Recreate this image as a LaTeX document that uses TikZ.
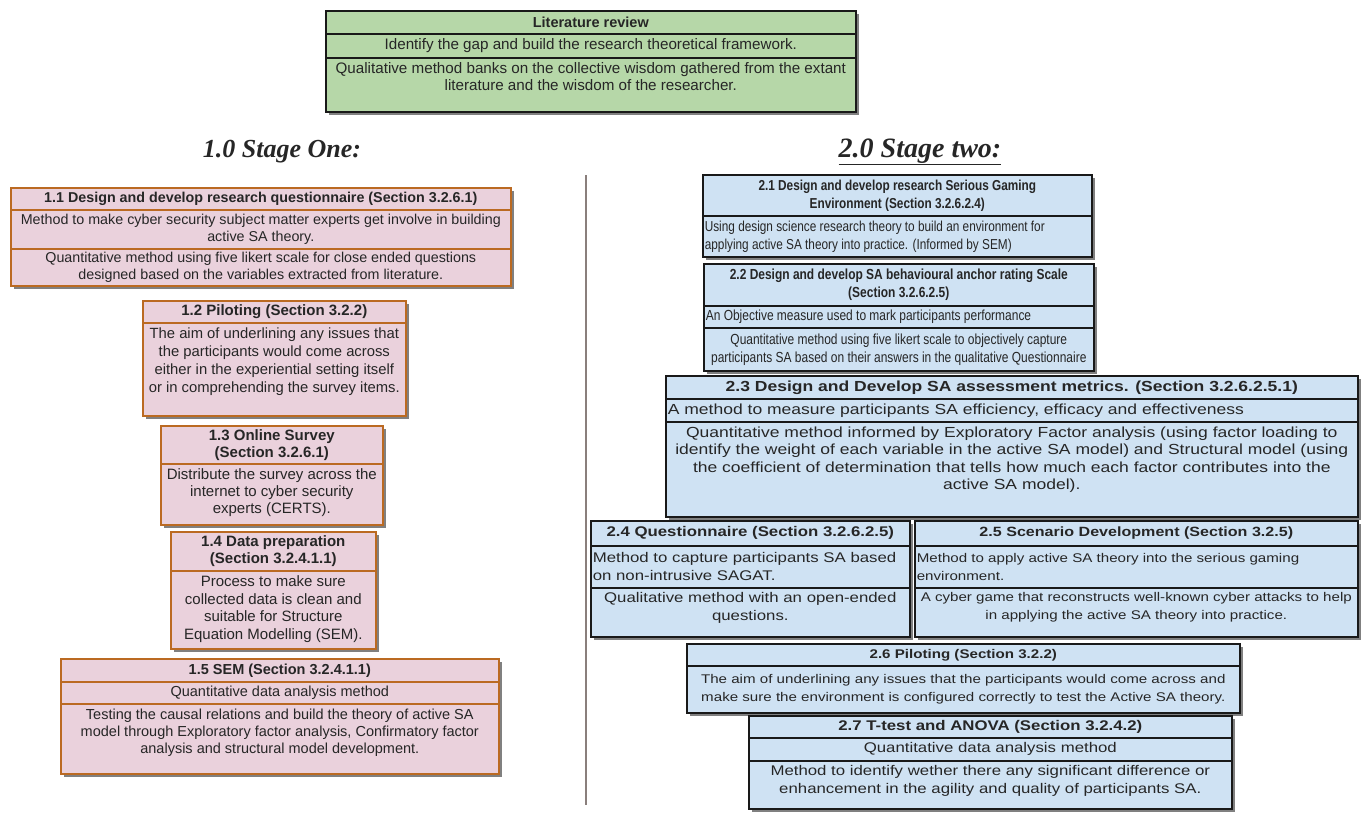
\documentclass[tikz,border=0pt]{standalone}
\usepackage{fontspec}
\setmainfont{Liberation Sans}
\newfontfamily\fR{Liberation Sans}
\newfontfamily\fN[FakeStretch=0.82]{Liberation Sans}
\newfontfamily\fX[FakeStretch=1.2]{Liberation Sans}
\newfontfamily\fT{Liberation Serif}
\usetikzlibrary{shadows}
\definecolor{grn}{HTML}{B6D7A8}
\definecolor{pnk}{HTML}{EAD1DC}
\definecolor{pnkline}{HTML}{BB6A22}
\definecolor{blu}{HTML}{CFE2F3}
\definecolor{divc}{HTML}{8A7F7C}
\definecolor{txt}{HTML}{262626}
\newcommand\fz[2]{\fontsize{#1}{#2}\selectfont}
\newcommand\ts{\rule{0pt}{1.05em}}
\newcommand\mkcell[9]{%
  \pgfmathsetmacro\cw{#4-4}%
  \node[#6, anchor=north west, inner xsep=2pt, inner ysep=0pt] (#1) at (#2,#3) {\parbox[c][#5pt][#7]{\cw pt}{#8#9}};%
}
\tikzset{
  shd/.style={drop shadow={shadow xshift=3.5pt, shadow yshift=-3.5pt, fill=black!50, opacity=1}},
  gbox/.style={shd, draw=black!90, fill=grn, line width=1.6pt, text=txt},
  pbox/.style={shd, draw=pnkline, fill=pnk, line width=1.6pt, text=txt},
  bbox/.style={shd, draw=black!90, fill=blu, line width=1.6pt, text=txt},
  ttl/.style={text=black!85, inner sep=1pt},
}
\begin{document}
\begin{tikzpicture}[x=1pt,y=-1pt]
\fill[white] (0,0) rectangle (1364,817);
\useasboundingbox (0,0) rectangle (1364,817);

% top box
\mkcell{lit1}{325}{10}{530}{23}{gbox, font=\fR\fz{14.5}{17}}{c}{\centering\bfseries}{Literature review}
\mkcell{lit2}{325}{33}{530}{24}{gbox, font=\fR\fz{15.2}{17}}{c}{\centering}{Identify the gap and build the research theoretical framework.}
\mkcell{lit3}{325}{57}{530}{54}{gbox, font=\fR\fz{15.2}{17}}{t}{\centering}{\ts Qualitative method banks on the collective wisdom gathered from the extant\\ literature and the wisdom of the researcher.}

% titles
\node[ttl, font=\fT\bfseries\itshape\fz{26}{30}] (t1) at (282,152) {1.0 Stage One:};
\node[ttl, font=\fT\bfseries\itshape\fz{28}{32}] (t2) at (920,152) {\underline{2.0 Stage two:}};

% divider
\coordinate (dtop) at (586,175);
\coordinate (dbot) at (586,805);
\draw[divc, line width=2pt] (dtop) -- (dbot);

% 1.1
\mkcell{a1}{10}{187}{500}{22}{pbox, font=\fR\fz{14.3}{16.5}}{c}{\centering\bfseries}{1.1 Design and develop research questionnaire (Section 3.2.6.1)}
\mkcell{a2}{10}{209}{500}{39}{pbox, font=\fR\fz{14.3}{16.5}}{c}{\centering}{Method to make cyber security subject matter experts get involve in building\\ active SA theory.}
\mkcell{a3}{10}{248}{500}{37}{pbox, font=\fR\fz{14.3}{16.5}}{c}{\centering}{Quantitative method using five likert scale for close ended questions\\ designed based on the variables extracted from literature.}

% 1.2
\mkcell{b1}{142}{300}{263}{22}{pbox, font=\fR\fz{15}{18}}{c}{\centering\bfseries}{1.2 Piloting (Section 3.2.2)}
\mkcell{b2}{142}{322}{263}{93}{pbox, font=\fR\fz{14.8}{18}}{t}{\centering}{\ts The aim of underlining any issues that\\ the participants would come across\\ either in the experiential setting itself\\ or in comprehending the survey items.}

% 1.3
\mkcell{c1}{160}{425}{222}{38}{pbox, font=\fR\fz{15}{17}}{c}{\centering\bfseries}{1.3 Online Survey\\ (Section 3.2.6.1)}
\mkcell{c2}{160}{463}{222}{61}{pbox, font=\fR\fz{15}{17}}{t}{\centering}{\ts Distribute the survey across the\\ internet to cyber security\\ experts (CERTS).}

% 1.4
\mkcell{d1}{170}{531}{205}{39}{pbox, font=\fR\fz{15}{17.5}}{c}{\centering\bfseries}{1.4 Data preparation\\ (Section 3.2.4.1.1)}
\mkcell{d2}{170}{570}{205}{78}{pbox, font=\fR\fz{15}{17.5}}{t}{\centering}{\ts Process to make sure\\ collected data is clean and\\ suitable for Structure\\ Equation Modelling (SEM).}

% 1.5
\mkcell{e1}{60}{658}{438}{23}{pbox, font=\fR\fz{14.5}{17}}{c}{\centering\bfseries}{1.5 SEM (Section 3.2.4.1.1)}
\mkcell{e2}{60}{681}{438}{22}{pbox, font=\fR\fz{14.5}{17}}{c}{\centering}{Quantitative data analysis method}
\mkcell{e3}{60}{703}{438}{70}{pbox, font=\fR\fz{14.5}{17}}{t}{\centering}{\ts Testing the causal relations and build the theory of active SA\\ model through Exploratory factor analysis, Confirmatory factor\\ analysis and structural model development.}

% 2.1
\mkcell{f1}{702}{174}{389}{41}{bbox, font=\fN\fz{14.4}{18}}{c}{\centering\bfseries}{2.1 Design and develop research Serious Gaming\\ Environment (Section 3.2.6.2.4)}
\mkcell{f2}{702}{215}{389}{41}{bbox, font=\fN\fz{14.4}{18}}{c}{\raggedright}{Using design science research theory to build an environment for\\ applying active SA theory into practice. (Informed by SEM)}

% 2.2
\mkcell{g1}{703}{263}{390}{42}{bbox, font=\fN\fz{14.6}{18}}{c}{\centering\bfseries}{2.2 Design and develop SA behavioural anchor rating Scale\\ (Section 3.2.6.2.5)}
\mkcell{g2}{703}{305}{390}{22}{bbox, font=\fN\fz{14.6}{18}}{c}{\raggedright}{An Objective measure used to mark participants performance}
\mkcell{g3}{703}{327}{390}{43}{bbox, font=\fN\fz{14.6}{18}}{c}{\centering}{Quantitative method using five likert scale to objectively capture\\ participants SA based on their answers in the qualitative Questionnaire}

% 2.3
\mkcell{h1}{665}{375}{692}{23}{bbox, font=\fX\fz{14.6}{17.5}}{c}{\centering\bfseries}{2.3 Design and Develop SA assessment metrics. (Section 3.2.6.2.5.1)}
\mkcell{h2}{665}{398}{692}{23}{bbox, font=\fX\fz{14.6}{17.5}}{c}{\raggedright}{A method to measure participants SA efficiency, efficacy and effectiveness}
\mkcell{h3}{665}{421}{692}{95}{bbox, font=\fX\fz{14.6}{17.5}}{t}{\centering}{\ts Quantitative method informed by Exploratory Factor analysis (using factor loading to\\ identify the weight of each variable in the active SA model) and Structural model (using\\ the coefficient of determination that tells how much each factor contributes into the\\ active SA model).}

% 2.4
\mkcell{i1}{590}{520}{319}{25}{bbox, font=\fX\fz{14}{18}}{c}{\centering\bfseries}{2.4 Questionnaire (Section 3.2.6.2.5)}
\mkcell{i2}{590}{545}{319}{42}{bbox, font=\fX\fz{14}{18}}{c}{\raggedright}{Method to capture participants SA based\\ on non-intrusive SAGAT.}
\mkcell{i3}{590}{587}{319}{49}{bbox, font=\fX\fz{14}{18}}{t}{\centering}{\ts Qualitative method with an open-ended\\ questions.}

% 2.5
\mkcell{j1}{914}{520}{443}{25}{bbox, font=\fX\fz{13.4}{18}}{c}{\centering\bfseries}{2.5 Scenario Development (Section 3.2.5)}
\mkcell{j2}{914}{545}{443}{42}{bbox, font=\fX\fz{12.6}{18}}{c}{\raggedright}{Method to apply active SA theory into the serious gaming\\ environment.}
\mkcell{j3}{914}{587}{443}{49}{bbox, font=\fX\fz{12.6}{18}}{t}{\centering}{\ts A cyber game that reconstructs well-known cyber attacks to help\\ in applying the active SA theory into practice.}

% 2.6
\mkcell{k1}{686}{643}{553}{22}{bbox, font=\fX\fz{12.6}{18}}{c}{\centering\bfseries}{2.6 Piloting (Section 3.2.2)}
\mkcell{k2}{686}{665}{553}{47}{bbox, font=\fX\fz{12.6}{18}}{c}{\centering}{The aim of underlining any issues that the participants would come across and\\ make sure the environment is configured correctly to test the Active SA theory.}

% 2.7
\mkcell{l1}{748}{715}{483}{22}{bbox, font=\fX\fz{14}{18}}{c}{\centering\bfseries}{2.7 T-test and ANOVA (Section 3.2.4.2)}
\mkcell{l2}{748}{737}{483}{23}{bbox, font=\fX\fz{14}{18}}{c}{\centering}{Quantitative data analysis method}
\mkcell{l3}{748}{760}{483}{48}{bbox, font=\fX\fz{14}{18}}{t}{\centering}{\ts Method to identify wether there any significant difference or\\ enhancement in the agility and quality of participants SA.}
\end{tikzpicture}
\end{document}
